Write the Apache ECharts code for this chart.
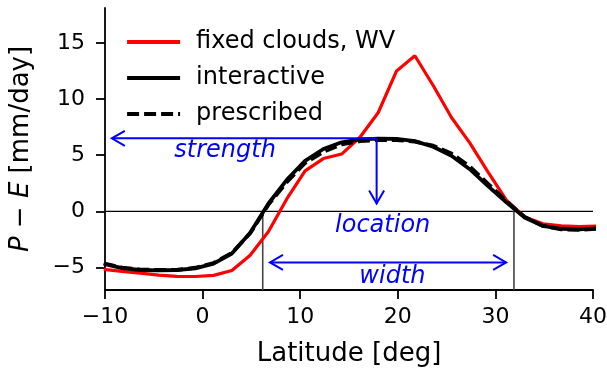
<!DOCTYPE html>
<html><head><meta charset="utf-8">
<script src="https://cdn.jsdelivr.net/npm/echarts@6/dist/echarts.min.js"></script>
<style>html,body{margin:0;padding:0;background:#fff}#c{width:607px;height:373px}</style>
</head><body><div id="c"></div>
<script>
// ---- data ----
const lats = [-10.125, -8.25, -6.375, -4.5, -2.625, -0.75, 1.125, 3.0, 4.875, 6.75, 8.625, 10.5, 12.375, 14.25, 16.125, 18.0, 19.875, 21.75, 23.625, 25.5, 27.375, 29.25, 31.125, 33.0, 34.875, 36.75, 38.625, 40.5];
const fixedClouds = [-5.17, -5.35, -5.5, -5.68, -5.78, -5.8, -5.7, -5.27, -3.9, -1.8, 1.1, 3.6, 4.7, 5.1, 6.6, 8.8, 12.5, 13.85, 11.2, 8.35, 6.1, 3.5, 1.0, -0.5, -1.1, -1.3, -1.35, -1.3];
const interactive = [-4.68, -5.05, -5.22, -5.25, -5.22, -5.07, -4.65, -3.75, -1.9, 0.7, 2.8, 4.5, 5.55, 6.15, 6.4, 6.48, 6.45, 6.25, 5.75, 4.95, 3.75, 2.25, 0.8, -0.55, -1.3, -1.55, -1.6, -1.5];
const prescribed = [-4.62, -5.0, -5.18, -5.22, -5.2, -5.02, -4.6, -3.7, -1.95, 0.6, 2.6, 4.3, 5.3, 5.95, 6.25, 6.35, 6.35, 6.2, 5.85, 5.15, 4.0, 2.45, 0.9, -0.5, -1.3, -1.6, -1.65, -1.55];
const seriesNames = ['fixed clouds, WV', 'interactive', 'prescribed'];
const xTicks = [-10, 0, 10, 20, 30, 40];
const yTicks = [-5, 0, 5, 10, 15];
const boundaryLats = [6.16, 31.9];
const strengthArrow = [[17.83, 6.5], [-9.3, 6.5]];
const locationArrow = [[17.83, 6.5], [17.83, 0.7]];
const widthArrow = [[6.9, -4.55], [31.1, -4.55]];
const annotationLabels = ['strength', 'location', 'width'];
const annotationAt = [[2.3, 5.35], [18.45, -1.3], [19.45, -5.8]];

// ---- chart ----
const FONT = '"DejaVu Sans", sans-serif';
const minus = v => String(v).replace('-', '\u2212');
const zip = ys => lats.map((x, i) => [x, ys[i]]);
const YMIN = -7, YMAX = 18.1;

function chevron(tip, from, api) {
  const t = api.coord(tip), f = api.coord(from);
  let dx = t[0] - f[0], dy = t[1] - f[1];
  const L = Math.hypot(dx, dy); dx /= L; dy /= L;
  const h = 13, w = 7.5;
  const nx = -dy, ny = dx;
  return {type: 'polyline', shape: {points: [
    [t[0] - h * dx + w * nx, t[1] - h * dy + w * ny], t,
    [t[0] - h * dx - w * nx, t[1] - h * dy - w * ny]]},
    style: {stroke: '#0000ff', lineWidth: 2, fill: null}};
}
function seg(a, b, api, style) {
  const p = api.coord(a), q = api.coord(b);
  return {type: 'line', shape: {x1: p[0], y1: p[1], x2: q[0], y2: q[1]}, style};
}

const chart = echarts.init(document.getElementById('c'), null, {renderer: 'canvas'});
const hideSym = {opacity: 0};
chart.setOption({
  animation: false,
  backgroundColor: '#fff',
  textStyle: {fontFamily: FONT},
  grid: {left: 105, right: 14, top: 8, bottom: 83, containLabel: false, outerBoundsMode: 'none'},
  legend: {
    orient: 'vertical', left: 125, top: 30, padding: 0, itemWidth: 53, itemHeight: 24, itemGap: 12,
    textStyle: {fontSize: 24, fontFamily: FONT, color: '#000', padding: [0, 0, 0, 11], lineHeight: 24},
    data: [
      {name: seriesNames[0], lineStyle: {width: 3.8}, itemStyle: hideSym},
      {name: seriesNames[1], lineStyle: {width: 4.2}, itemStyle: hideSym},
      {name: seriesNames[2], lineStyle: {width: 4.2}, itemStyle: hideSym}
    ]
  },
  xAxis: {
    type: 'value', min: -10, max: 40, interval: 10,
    axisLine: {onZero: false, lineStyle: {color: '#000', width: 1.8}},
    axisTick: {length: 9, lineStyle: {color: '#000', width: 1.8}},
    axisLabel: {fontSize: 22, color: '#000', margin: 16, fontFamily: FONT, formatter: minus, customValues: xTicks},
    splitLine: {show: false},
    name: 'Latitude [deg]', nameLocation: 'middle', nameGap: 51,
    nameTextStyle: {fontSize: 26, color: '#000', fontFamily: FONT}
  },
  yAxis: {
    type: 'value', min: YMIN, max: YMAX,
    axisLine: {onZero: false, lineStyle: {color: '#000', width: 1.8}},
    axisTick: {length: 9, lineStyle: {color: '#000', width: 1.8}, customValues: yTicks},
    axisLabel: {fontSize: 22, color: '#000', margin: 20, fontFamily: FONT, formatter: minus, customValues: yTicks},
    splitLine: {show: false},
    name: '{i|P} \u2212 {i|E} [mm/day]', nameLocation: 'middle', nameGap: 71, nameRotate: 90,
    nameTextStyle: {fontSize: 26, color: '#000', fontFamily: FONT,
      rich: {i: {fontSize: 26, fontStyle: 'italic', fontFamily: FONT, color: '#000'}}}
  },
  series: [
    {
      type: 'custom', z: 1, silent: true, data: [[0, 0]],
      renderItem: (params, api) => ({type: 'group', children: [
        seg([-10, 0], [40, 0], api, {stroke: '#000', lineWidth: 1.2}),
        ...boundaryLats.map(b => seg([b, 0], [b, YMIN], api, {stroke: '#444', lineWidth: 1.6}))
      ]})
    },
    {name: seriesNames[0], type: 'line', data: zip(fixedClouds), symbol: 'none', z: 2,
      lineStyle: {color: '#ff0000', width: 3.2}, itemStyle: {color: '#ff0000'}},
    {name: seriesNames[1], type: 'line', data: zip(interactive), symbol: 'none', z: 3,
      lineStyle: {color: '#000', width: 3.8}, itemStyle: {color: '#000'}},
    {name: seriesNames[2], type: 'line', data: zip(prescribed), symbol: 'none', z: 4,
      lineStyle: {color: '#000', width: 3.8, type: [12, 5]}, itemStyle: {color: '#000'}},
    {
      type: 'custom', z: 10, silent: true, data: [[0, 0]],
      renderItem: (params, api) => {
        const blue = {stroke: '#0000ff', lineWidth: 2};
        const ch = [
          seg(strengthArrow[0], strengthArrow[1], api, blue),
          chevron(strengthArrow[1], strengthArrow[0], api),
          seg(locationArrow[0], locationArrow[1], api, blue),
          chevron(locationArrow[1], locationArrow[0], api),
          seg(widthArrow[0], widthArrow[1], api, blue),
          chevron(widthArrow[0], widthArrow[1], api),
          chevron(widthArrow[1], widthArrow[0], api)
        ];
        annotationLabels.forEach((t, i) => {
          const p = api.coord(annotationAt[i]);
          ch.push({type: 'text', style: {text: t, x: p[0], y: p[1], align: 'center', verticalAlign: 'middle',
            font: 'italic 24px "DejaVu Sans", sans-serif', fill: '#0000ff'}});
        });
        return {type: 'group', children: ch};
      }
    }
  ]
});
</script></body></html>
